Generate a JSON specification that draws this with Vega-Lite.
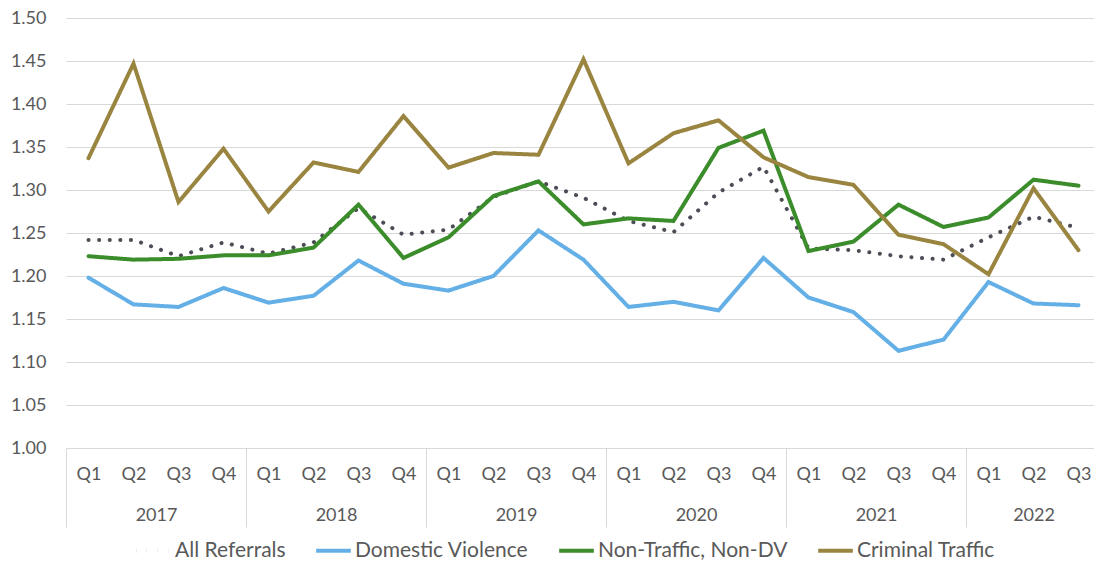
{
  "$schema": "https://vega.github.io/schema/vega-lite/v6.json",
  "width": 1035,
  "height": 430,
  "padding": {"left": 10, "top": 9, "right": 0, "bottom": 0},
  "background": "white",
  "config": {
    "view": {"stroke": null},
    "font": "Lato",
    "axis": {"labelFont": "Lato", "labelColor": "#595959", "labelFontSize": 18},
    "legend": {"labelFont": "Lato", "labelColor": "#595959", "labelFontSize": 21}
  },
  "data": {
    "values": [
      {"idx": 0, "period": "2017 Q1", "All Referrals": 1.242, "Domestic Violence": 1.198, "Non-Traffic, Non-DV": 1.223, "Criminal Traffic": 1.337},
      {"idx": 1, "period": "2017 Q2", "All Referrals": 1.242, "Domestic Violence": 1.167, "Non-Traffic, Non-DV": 1.219, "Criminal Traffic": 1.447},
      {"idx": 2, "period": "2017 Q3", "All Referrals": 1.223, "Domestic Violence": 1.164, "Non-Traffic, Non-DV": 1.220, "Criminal Traffic": 1.286},
      {"idx": 3, "period": "2017 Q4", "All Referrals": 1.239, "Domestic Violence": 1.186, "Non-Traffic, Non-DV": 1.224, "Criminal Traffic": 1.348},
      {"idx": 4, "period": "2018 Q1", "All Referrals": 1.226, "Domestic Violence": 1.169, "Non-Traffic, Non-DV": 1.224, "Criminal Traffic": 1.275},
      {"idx": 5, "period": "2018 Q2", "All Referrals": 1.239, "Domestic Violence": 1.177, "Non-Traffic, Non-DV": 1.233, "Criminal Traffic": 1.332},
      {"idx": 6, "period": "2018 Q3", "All Referrals": 1.279, "Domestic Violence": 1.218, "Non-Traffic, Non-DV": 1.283, "Criminal Traffic": 1.321},
      {"idx": 7, "period": "2018 Q4", "All Referrals": 1.248, "Domestic Violence": 1.191, "Non-Traffic, Non-DV": 1.221, "Criminal Traffic": 1.386},
      {"idx": 8, "period": "2019 Q1", "All Referrals": 1.254, "Domestic Violence": 1.183, "Non-Traffic, Non-DV": 1.245, "Criminal Traffic": 1.326},
      {"idx": 9, "period": "2019 Q2", "All Referrals": 1.292, "Domestic Violence": 1.200, "Non-Traffic, Non-DV": 1.293, "Criminal Traffic": 1.343},
      {"idx": 10, "period": "2019 Q3", "All Referrals": 1.310, "Domestic Violence": 1.253, "Non-Traffic, Non-DV": 1.310, "Criminal Traffic": 1.341},
      {"idx": 11, "period": "2019 Q4", "All Referrals": 1.291, "Domestic Violence": 1.219, "Non-Traffic, Non-DV": 1.260, "Criminal Traffic": 1.452},
      {"idx": 12, "period": "2020 Q1", "All Referrals": 1.264, "Domestic Violence": 1.164, "Non-Traffic, Non-DV": 1.267, "Criminal Traffic": 1.331},
      {"idx": 13, "period": "2020 Q2", "All Referrals": 1.251, "Domestic Violence": 1.170, "Non-Traffic, Non-DV": 1.264, "Criminal Traffic": 1.366},
      {"idx": 14, "period": "2020 Q3", "All Referrals": 1.297, "Domestic Violence": 1.160, "Non-Traffic, Non-DV": 1.349, "Criminal Traffic": 1.381},
      {"idx": 15, "period": "2020 Q4", "All Referrals": 1.327, "Domestic Violence": 1.221, "Non-Traffic, Non-DV": 1.369, "Criminal Traffic": 1.338},
      {"idx": 16, "period": "2021 Q1", "All Referrals": 1.232, "Domestic Violence": 1.175, "Non-Traffic, Non-DV": 1.229, "Criminal Traffic": 1.315},
      {"idx": 17, "period": "2021 Q2", "All Referrals": 1.230, "Domestic Violence": 1.158, "Non-Traffic, Non-DV": 1.240, "Criminal Traffic": 1.306},
      {"idx": 18, "period": "2021 Q3", "All Referrals": 1.223, "Domestic Violence": 1.113, "Non-Traffic, Non-DV": 1.283, "Criminal Traffic": 1.248},
      {"idx": 19, "period": "2021 Q4", "All Referrals": 1.219, "Domestic Violence": 1.126, "Non-Traffic, Non-DV": 1.257, "Criminal Traffic": 1.237},
      {"idx": 20, "period": "2022 Q1", "All Referrals": 1.245, "Domestic Violence": 1.193, "Non-Traffic, Non-DV": 1.268, "Criminal Traffic": 1.202},
      {"idx": 21, "period": "2022 Q2", "All Referrals": 1.269, "Domestic Violence": 1.168, "Non-Traffic, Non-DV": 1.312, "Criminal Traffic": 1.302},
      {"idx": 22, "period": "2022 Q3", "All Referrals": 1.256, "Domestic Violence": 1.166, "Non-Traffic, Non-DV": 1.305, "Criminal Traffic": 1.230}
    ]
  },
  "transform": [
    {"fold": ["All Referrals", "Domestic Violence", "Non-Traffic, Non-DV", "Criminal Traffic"], "as": ["series", "value"]}
  ],
  "layer": [
    {
      "mark": {"type": "point", "opacity": 0},
      "encoding": {
        "x": {
          "field": "idx", "type": "quantitative",
          "scale": {"domain": [-0.5, 22.5], "nice": false, "zero": false},
          "axis": {
            "orient": "bottom", "title": null, "grid": false, "domain": false,
            "labels": false, "ticks": true, "tickSize": 79, "tickColor": "#d9d9d9", "tickWidth": 1,
            "values": [-0.5, 3.5, 7.5, 11.5, 15.5, 19.5, 22.5]
          }
        },
        "y": {"field": "value", "type": "quantitative", "scale": {"domain": [1, 1.5], "nice": false, "zero": false},
          "axis": {"title": null, "grid": true, "gridColor": "#d9d9d9", "gridWidth": 1, "domain": false, "ticks": false, "labelPadding": 20,
            "values": [1.0, 1.05, 1.1, 1.15, 1.2, 1.25, 1.3, 1.35, 1.4, 1.45, 1.5], "format": ".2f"}}
      }
    },
    {
      "mark": {"type": "point", "opacity": 0},
      "encoding": {
        "x": {
          "field": "idx", "type": "quantitative",
          "scale": {"domain": [-0.5, 22.5], "nice": false, "zero": false},
          "axis": {
            "orient": "bottom", "title": null, "grid": false, "domain": false, "ticks": false,
            "labelPadding": 58, "values": [1.5, 5.5, 9.5, 13.5, 17.5, 21],
            "labelExpr": "'' + (2017 + floor(datum.value / 4))"
          }
        },
        "y": {"field": "value", "type": "quantitative"}
      }
    },
    {
      "mark": {"type": "line", "strokeWidth": 4, "strokeCap": "round", "strokeJoin": "miter"},
      "encoding": {
        "x": {
          "field": "idx", "type": "quantitative",
          "scale": {"domain": [-0.5, 22.5], "nice": false, "zero": false},
          "axis": {
            "orient": "bottom", "title": null, "grid": false, "domain": false, "ticks": false,
            "labelPadding": 17, "values": [0,1,2,3,4,5,6,7,8,9,10,11,12,13,14,15,16,17,18,19,20,21,22],
            "labelExpr": "'Q' + (datum.value % 4 + 1)"
          }
        },
        "y": {"field": "value", "type": "quantitative"},
        "color": {
          "field": "series", "type": "nominal",
          "scale": {"domain": ["All Referrals", "Domestic Violence", "Non-Traffic, Non-DV", "Criminal Traffic"],
                    "range": ["#4d4d57", "#64b0e6", "#3b8c2a", "#9a8540"]},
          "legend": {"title": null, "orient": "none", "legendX": 68, "legendY": 513, "direction": "horizontal", "symbolType": "stroke",
                     "symbolStrokeWidth": 4, "symbolSize": 1200, "labelOffset": 2, "columnPadding": 22, "labelLimit": 400}
        },
        "strokeDash": {
          "field": "series", "type": "nominal",
          "scale": {"domain": ["All Referrals", "Domestic Violence", "Non-Traffic, Non-DV", "Criminal Traffic"],
                    "range": [[0.1, 10.5], [1, 0], [1, 0], [1, 0]]},
          "legend": {"title": null, "orient": "none", "legendX": 68, "legendY": 513, "direction": "horizontal", "symbolType": "stroke",
                     "symbolStrokeWidth": 4, "symbolSize": 1200, "labelOffset": 2, "columnPadding": 22, "labelLimit": 400}
        }
      }
    }
  ],
  "resolve": {"scale": {"x": "independent"}, "axis": {"x": "independent"}}
}
